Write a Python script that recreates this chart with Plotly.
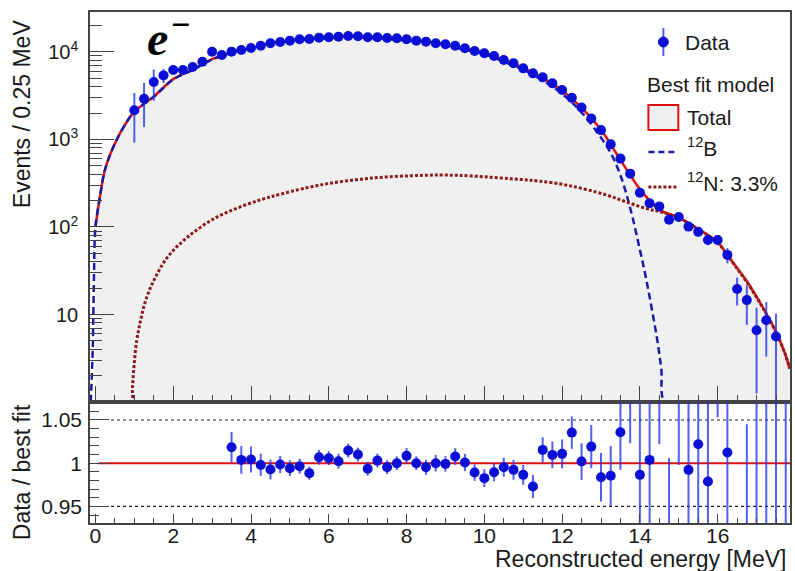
import plotly.graph_objects as go

# ---------------- data ----------------
E_data = [1.0, 1.25, 1.5, 1.75, 2.0, 2.25, 2.5, 2.75, 3.0, 3.25, 3.5, 3.75, 4.0, 4.25, 4.5, 4.75,
          5.0, 5.25, 5.5, 5.75, 6.0, 6.25, 6.5, 6.75, 7.0, 7.25, 7.5, 7.75, 8.0, 8.25, 8.5, 8.75,
          9.0, 9.25, 9.5, 9.75, 10.0, 10.25, 10.5, 10.75, 11.0, 11.25, 11.5, 11.75, 12.0, 12.25,
          12.5, 12.75, 13.0, 13.25, 13.5, 13.75, 14.0, 14.25, 14.5, 14.75, 15.0, 15.25, 15.5,
          15.75, 16.0, 16.25, 16.5, 16.75, 17.0, 17.25, 17.5]
counts = [2160, 2920, 4530, 5400, 6220, 6220, 6730, 7740, 10080, 9240, 10090, 10540, 11120, 11810,
          12580, 13020, 13480, 13990, 14090, 14580, 14750, 14970, 15240, 15120, 14750, 14750, 14450,
          14350, 13990, 13480, 13130, 12580, 12250, 11810, 11020, 10260, 9660, 8990, 8090, 7420,
          6500, 5700, 5130, 4380, 3670, 2990, 2320, 1740, 1280, 883, 605, 407, 247, 187, 172, 121,
          130, 101, 88, 71, 71, 48, 19.6, 14.6, 6.6, 8.6, 5.6]
counts_err = [1240, 1530, 1750, 1000, 500, 350, 300, 280, 250, 220, 180, 170, 165, 155, 145, 135,
              125, 120, 110, 120, 118, 125, 120, 120, 120, 120, 120, 120, 125, 120, 120, 120, 120,
              115, 115, 105, 100, 95, 90, 85, 80, 75, 70, 65, 60, 55, 50, 45, 40, 35, 27, 25, 22,
              17, 15, 13, 13, 11, 10, 9, 9, 9.5, 6.9, 7.0, 5.35, 5.3, 4.6]

E_total = [0.0, 0.1, 0.25, 0.5, 0.75, 1.0, 1.5, 2.0, 2.5, 3.0, 3.5, 4.0, 4.5, 5.0, 5.5, 6.0, 6.5,
           7.0, 7.5, 8.0, 8.5, 9.0, 9.5, 10.0, 10.5, 11.0, 11.5, 12.0, 12.5, 13.0, 13.5, 14.0,
           14.5, 15.0, 15.5, 16.0, 16.25, 16.5, 16.75, 17.0, 17.25, 17.5, 17.75, 17.85]
total = [100, 200, 460, 900, 1450, 2080, 3100, 4900, 6300, 8300, 9900, 11050, 12600, 13550, 14220,
         14680, 15000, 14900, 14530, 13880, 13190, 12260, 11010, 9830, 8140, 6600, 5050, 3630,
         2310, 1290, 585, 272, 158, 128, 95, 67, 48, 34, 24, 16, 10.2, 6.3, 3.4, 2.4]

E_b12 = [-0.12, -0.07, -0.04, 0.0, 0.1, 0.25, 0.5, 0.75, 1.0, 1.5, 2.0, 2.5, 3.0, 3.5, 4.0, 4.5,
         5.0, 5.5, 6.0, 6.5, 7.0, 7.5, 8.0, 8.5, 9.0, 9.5, 10.0, 10.5, 11.0, 11.5, 12.0, 12.5,
         13.0, 13.25, 13.5, 13.75, 14.0, 14.15, 14.3, 14.45, 14.55, 14.65, 15.5, 16.5, 17.9]
b12 = [1.0, 4, 24, 100, 200, 460, 900, 1450, 2078, 3076, 4855, 6230, 8200, 9770, 10880, 12400,
       13320, 13970, 14390, 14680, 14550, 14160, 13490, 12790, 11870, 10620, 9450, 7780, 6260,
       4720, 3330, 2040, 1050, 700, 390, 165, 55, 27, 12, 5, 2.4, 1.0, 1.0, 1.0, 1.0]

E_n12 = [-0.12, 0.5, 0.92, 0.95, 0.99, 1.06, 1.16, 1.29, 1.5, 1.85, 2.36, 3.04, 3.7, 4.3, 4.8,
         5.83, 7.1, 8.4, 9.0, 9.67, 10.96, 11.4, 12.15, 13.1, 13.7, 14.2, 14.5, 15.0, 15.5, 16.0,
         16.25, 16.5, 16.75, 17.0, 17.25, 17.5, 17.75, 17.85]
n12 = [1.0, 1.0, 1.0, 1.46, 2.5, 5.0, 8.5, 14.4, 24.4, 45, 76, 124, 168, 208, 240, 305, 362, 389,
       392, 383, 348, 335, 299, 235, 190, 161, 150, 127, 94, 66, 47.5, 33.5, 23.5, 15.7, 10.2, 6.3,
       3.4, 2.4]

E_ratio = [3.5, 3.75, 4.0, 4.25, 4.5, 4.75, 5.0, 5.25, 5.5, 5.75, 6.0, 6.25, 6.5, 6.75, 7.0, 7.25,
           7.5, 7.75, 8.0, 8.25, 8.5, 8.75, 9.0, 9.25, 9.5, 9.75, 10.0, 10.25, 10.5, 10.75, 11.0,
           11.25, 11.5, 11.75, 12.0, 12.25, 12.5, 12.75, 13.0, 13.25, 13.5, 13.75, 14.0, 14.25,
           14.5, 14.75, 15.0, 15.25, 15.5, 15.75, 16.0, 16.25, 16.5, 16.75, 17.0, 17.25, 17.5, 17.75]
ratio = [1.0185, 1.0038, 1.0042, 0.998, 0.9927, 0.9985, 0.9942, 0.9965, 0.9885, 1.0069, 1.0058,
         1.0023, 1.0146, 1.0100, 0.9935, 1.003, 0.9954, 1.0, 1.0085, 1.0, 0.9954, 1.0, 0.9992,
         1.0077, 1.0008, 0.9892, 0.9827, 0.9896, 0.9954, 0.9923, 0.9865, 0.973, 1.0154, 1.0096,
         1.0108, 1.0354, 1.0019, 1.0192, 0.9838, 0.9854, 1.0358, 1.085, 0.9865, 1.0038, 1.11,
         0.90, 1.10, 0.9923, 1.0219, 0.9788, 1.15, 1.0123, 0.57, 0.75, 0.9, 0.85, 0.9, 0.6]
ratio_err = [0.0177, 0.016, 0.015, 0.013, 0.0115, 0.010, 0.009, 0.0087, 0.0077, 0.0085, 0.008,
             0.0087, 0.008, 0.008, 0.008, 0.008, 0.008, 0.008, 0.009, 0.008, 0.0087, 0.0096, 0.009,
             0.0096, 0.010, 0.0096, 0.0104, 0.0106, 0.011, 0.0115, 0.0115, 0.0135, 0.0146, 0.0154,
             0.0167, 0.0187, 0.0212, 0.025, 0.028, 0.0346, 0.0435, 0.062, 0.09, 0.095, 0.088,
             0.106, 0.102, 0.12, 0.13, 0.15, 0.097, 0.2, 0.2, 0.295, 0.5, 0.5, 0.7, 1.0]

top_tickvals = [10, 100, 1000, 10000]
top_ticktext = ["10", "10<sup>2</sup>", "10<sup>3</sup>", "10<sup>4</sup>"]
ratio_tickvals = [0.95, 1.0, 1.05]
ratio_ticktext = ["0.95", "1", "1.05"]

# ---------------- styling ----------------
FONT = "Liberation Sans, Arial, sans-serif"
BLUE = "#0a0fd6"
ERR = "rgba(40,55,235,0.8)"
RED = "#e01010"
NAVY = "#1a1aa8"
BROWN = "#8b1c1c"
FILL = "#f0f0f0"
AX = "#444444"
TXT = "#1a1a1a"

W, H = 795, 571
L, R, T, B = 90, 792, 12, 523
SPLIT = 402


def px(x):
    return (x - L) / (R - L)


def py(y):
    return (B - y) / (B - T)


fig = go.Figure()

fig.add_trace(go.Scatter(x=E_total, y=total, mode="lines", line=dict(color=RED, width=2.5, shape="spline"),
                         fill="tozeroy", fillcolor=FILL, xaxis="x", yaxis="y", showlegend=False))
fig.add_trace(go.Scatter(x=E_b12, y=b12, mode="lines",
                         line=dict(color=NAVY, width=2.5, dash="7px,4px", shape="spline"),
                         xaxis="x", yaxis="y", showlegend=False))
fig.add_trace(go.Scatter(x=E_n12, y=n12, mode="lines",
                         line=dict(color=BROWN, width=3, dash="3px,2px", shape="spline"),
                         xaxis="x", yaxis="y", showlegend=False))
fig.add_trace(go.Scatter(x=E_data, y=counts, mode="markers",
                         marker=dict(color=BLUE, size=10),
                         error_y=dict(type="data", array=counts_err, color=ERR, thickness=2, width=0),
                         xaxis="x", yaxis="y", showlegend=False))

fig.add_trace(go.Scatter(x=E_ratio, y=ratio, mode="markers",
                         marker=dict(color=BLUE, size=10),
                         error_y=dict(type="data", array=ratio_err, color=ERR, thickness=2, width=0),
                         xaxis="x2", yaxis="y2", showlegend=False))

# ratio reference lines
fig.add_shape(type="line", xref="x2 domain", yref="y2", x0=0.012, x1=1, y0=1.0, y1=1.0,
              line=dict(color=RED, width=2), layer="below")
for v in (0.95, 1.05):
    fig.add_shape(type="line", xref="x2 domain", yref="y2", x0=0.03, x1=1, y0=v, y1=v,
                  line=dict(color="#222", width=1.2, dash="dot"), layer="below")

xr = [-0.14, 17.86]
split_frac = (B - SPLIT) / (B - T)

minor_log = [m * 10 ** k for k in range(0, 5) for m in range(2, 10)]
minor_ratio = [round(0.93 + 0.01 * i, 2) for i in range(15)]

fig.update_layout(
    width=W, height=H,
    margin=dict(l=L, r=W - R, t=T, b=H - B),
    paper_bgcolor="white", plot_bgcolor="white",
    font=dict(family=FONT, color=TXT),
    showlegend=False,
    xaxis=dict(domain=[0, 1], anchor="y", range=xr, showticklabels=False,
               ticks="inside", ticklen=16, tickwidth=1.3, tickcolor=AX, tick0=0, dtick=2,
               minor=dict(ticks="inside", ticklen=7, tickwidth=1.3, tickcolor=AX, tick0=0, dtick=0.5, showgrid=False),
               showline=True, linecolor=AX, linewidth=1.5, mirror=True, showgrid=False, zeroline=False),
    yaxis=dict(domain=[split_frac, 1], anchor="x", type="log", range=[0, 4.457],
               tickmode="array", tickvals=top_tickvals, ticktext=top_ticktext,
               tickfont=dict(size=20, color=TXT), ticklabelstandoff=6,
               ticks="inside", ticklen=24, tickwidth=1.3, tickcolor=AX,
               minor=dict(tickmode="array", tickvals=minor_log, ticks="inside", ticklen=12,
                          tickwidth=1.3, tickcolor=AX, showgrid=False),
               showline=True, linecolor=AX, linewidth=1.5, mirror=True, showgrid=False, zeroline=False),
    xaxis2=dict(domain=[0, 1], anchor="y2", range=xr, tick0=0, dtick=2,
                tickfont=dict(size=21, color=TXT), ticklabelstandoff=-7,
                ticks="inside", ticklen=9, tickwidth=1.3, tickcolor=AX,
                minor=dict(ticks="inside", ticklen=5, tickwidth=1.3, tickcolor=AX, tick0=0, dtick=0.5, showgrid=False),
                showline=True, linecolor=AX, linewidth=1.5, mirror=True, showgrid=False, zeroline=False),
    yaxis2=dict(domain=[0, split_frac], anchor="x2", range=[0.9308, 1.0708],
                tickmode="array", tickvals=ratio_tickvals, ticktext=ratio_ticktext,
                tickfont=dict(size=21, color=TXT), ticklabelstandoff=2,
                ticks="inside", ticklen=19, tickwidth=1.3, tickcolor=AX,
                minor=dict(tickmode="array", tickvals=minor_ratio, ticks="inside", ticklen=9,
                           tickwidth=1.3, tickcolor=AX, showgrid=False),
                showline=True, linecolor=AX, linewidth=1.5, mirror=True, showgrid=False, zeroline=False),
)

ann = []
ann.append(dict(text="Events / 0.25 MeV", x=px(22), y=py(114), textangle=-90, font=dict(size=23)))
ann.append(dict(text="Data / best fit", x=px(22), y=py(472), textangle=-90, font=dict(size=23)))
ann.append(dict(text="Reconstructed energy [MeV]", x=px(790), y=py(559), xanchor="right", font=dict(size=23)))
ann.append(dict(text="<b><i>e</i></b>", x=px(145), y=py(38), xanchor="left",
                font=dict(size=48, family="Liberation Serif, DejaVu Serif, serif", color="#000")))
ann.append(dict(text="<b>−</b>", x=px(181), y=py(24), xanchor="center",
                font=dict(size=34, family="Liberation Serif, DejaVu Serif, serif", color="#000")))
ann.append(dict(text="Data", x=px(685), y=py(42), xanchor="left", font=dict(size=21)))
ann.append(dict(text="Best fit model", x=px(647), y=py(84), xanchor="left", font=dict(size=21)))
ann.append(dict(text="Total", x=px(687), y=py(117), xanchor="left", font=dict(size=21)))
ann.append(dict(text="<sup>12</sup>B", x=px(687), y=py(147), xanchor="left", font=dict(size=21)))
ann.append(dict(text="<sup>12</sup>N: 3.3%", x=px(687), y=py(182), xanchor="left", font=dict(size=21)))
for a in ann:
    a.update(xref="paper", yref="paper", showarrow=False)
    a.setdefault("xanchor", "center")
    a.setdefault("yanchor", "middle")
fig.update_layout(annotations=ann)

shapes = [
    dict(type="line", x0=px(665), x1=px(665), y0=py(28), y1=py(56), line=dict(color=ERR, width=2)),
    dict(type="circle", x0=px(660), x1=px(670), y0=py(47), y1=py(37), fillcolor=BLUE, line=dict(color=BLUE, width=1)),
    dict(type="rect", x0=px(650), x1=px(680), y0=py(130), y1=py(105), fillcolor=FILL, line=dict(color=RED, width=2)),
    dict(type="line", x0=px(650), x1=px(680), y0=py(152), y1=py(152), line=dict(color=NAVY, width=2.5, dash="6px,4px")),
    dict(type="line", x0=px(650), x1=px(680), y0=py(187), y1=py(187), line=dict(color=BROWN, width=3, dash="3px,2px")),
]
for s in shapes:
    s.update(xref="paper", yref="paper")
    fig.add_shape(**s)

fig.write_html("out.html")
